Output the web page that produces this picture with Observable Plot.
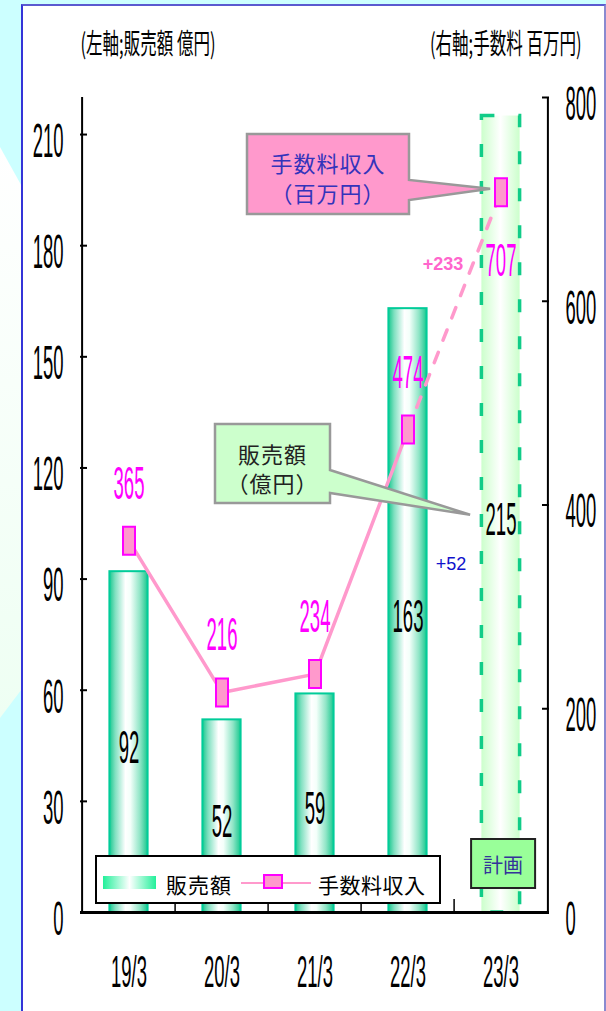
<!DOCTYPE html>
<html><head><meta charset="utf-8">
<script src="https://cdn.jsdelivr.net/npm/d3@7"></script>
<script src="https://cdn.jsdelivr.net/npm/@observablehq/plot@0.6"></script>
<style>
html,body{margin:0;padding:0;}
body{width:606px;height:1011px;background:#ccffff;position:relative;overflow:hidden;font-family:"Liberation Sans",Arial,sans-serif;}
#deco{position:absolute;left:0;top:0;}
#panel{position:absolute;left:21px;top:4px;width:581px;height:1100px;background:#fff;border-left:2px solid #3434d8;border-top:2px solid #5a5ad0;border-right:2px solid #8a8ad0;}
#chart{position:absolute;left:0;top:0;}
</style></head><body>
<svg id="deco" width="606" height="1011"><defs><linearGradient id="dg" x1="0" y1="0" x2="0" y2="1"><stop offset="0" stop-color="#ffffff"/><stop offset="1" stop-color="#eefff3"/></linearGradient></defs><polygon points="0,147 40,219 40,665 0,718" fill="url(#dg)"/></svg>
<div id="panel"></div>
<div id="chart"></div>
<script>
// ---- data ----
const periods = ["19/3", "20/3", "21/3", "22/3", "23/3"];
const sales = [92, 52, 59, 163, 215];      // 販売額 (億円), left axis
const fees = [365, 216, 234, 474, 707];    // 手数料収入 (百万円), right axis
const leftTicks = [0, 30, 60, 90, 120, 150, 180, 210];
const rightTicks = [0, 200, 400, 600, 800];
const planPeriod = "23/3";
const leftTitle = "(左軸;販売額 億円)";
const rightTitle = "(右軸;手数料 百万円)";
const leftMax = 220, rightMax = 800;

const toLeft = v => v * leftMax / rightMax;
const rows = periods.map((p, i) => ({period: p, sales: sales[i], fee: fees[i], plan: p === planPeriod}));
const actual = rows.filter(d => !d.plan);
const plan = rows.filter(d => d.plan);
const planIdx = periods.indexOf(planPeriod);
const diffs = [{period: planPeriod, sales: sales[planIdx], fee: fees[planIdx],
  dSales: sales[planIdx] - sales[planIdx - 1], dFee: fees[planIdx] - fees[planIdx - 1]}];

// ---- layout ----
const W = 606, H = 1011, mL = 80, mR = 57, mT = 97, mB = 99;
const innerW = W - mL - mR, innerH = H - mT - mB;
const step = innerW / periods.length;
const barW = 39, inset = (step - barW) / 2;
const NUM = "'Liberation Sans', Arial, sans-serif";
const CJK = "'Noto Sans CJK JP', 'Noto Sans', sans-serif";
// condensed text sizes -> horizontal scale
const SZ_Y = 48, SZ_X = 44, SZ_V = 47, SZ_T = 28;
const condenseBy = {[SZ_Y]: 0.385, [SZ_X]: 0.42, [SZ_V]: 0.395, [SZ_T]: 0.59};

const rectSym = {draw(ctx) { ctx.moveTo(-6, -14); ctx.lineTo(6, -14); ctx.lineTo(6, 14); ctx.lineTo(-6, 14); ctx.closePath(); }};

const plot = Plot.plot({
  width: W, height: H,
  marginLeft: mL, marginRight: mR, marginTop: mT, marginBottom: mB,
  x: {type: "band", domain: periods, padding: 0, axis: null},
  y: {domain: [0, leftMax], axis: null},
  style: {background: "transparent", overflow: "visible", fontFamily: NUM},
  marks: [
    Plot.barY(plan, {x: "period", y: "sales", fill: "url(#planGrad)", stroke: "#11cc88", strokeWidth: 3.5, strokeDasharray: "13,24", insetLeft: inset, insetRight: inset}),
    Plot.barY(actual, {x: "period", y: "sales", fill: "url(#barGrad)", stroke: "#00cc99", strokeWidth: 2, insetLeft: inset, insetRight: inset}),
    // bottom category ticks (inward)
    Plot.ruleX(periods.slice(1), {x: d => d, dx: -step / 2, insetTop: innerH - 13, stroke: "#000", strokeWidth: 1.5}),
    // axis lines
    Plot.ruleX([periods[0]], {x: d => d, dx: -step / 2, stroke: "#000", strokeWidth: 2}),
    Plot.ruleX([periods[periods.length - 1]], {x: d => d, dx: step / 2, stroke: "#000", strokeWidth: 2}),
    Plot.ruleY([0], {stroke: "#000", strokeWidth: 3}),
    // y ticks (inward)
    Plot.ruleY(leftTicks, {y: d => d, insetRight: innerW - 7, stroke: "#000", strokeWidth: 2}),
    Plot.ruleY(rightTicks, {y: d => toLeft(d), insetLeft: innerW - 7, stroke: "#000", strokeWidth: 2}),
    // fee line
    Plot.lineY(actual, {x: "period", y: d => toLeft(d.fee), stroke: "#ff99cc", strokeWidth: 3.5}),
    Plot.lineY(rows.slice(planIdx - 1), {x: "period", y: d => toLeft(d.fee), stroke: "#ff99cc", strokeWidth: 3.5, strokeDasharray: "11,13"}),
    Plot.dot(rows, {x: "period", y: d => toLeft(d.fee), symbol: rectSym, fill: "#ff99cc", stroke: "#ff00ff", strokeWidth: 2}),
    // axis labels
    Plot.text(leftTicks, {y: d => d, text: d => String(d), frameAnchor: "left", dx: -17, dy: 7, textAnchor: "end", fontSize: SZ_Y, fontFamily: NUM, fill: "#000"}),
    Plot.text(rightTicks, {y: d => toLeft(d), text: d => String(d), frameAnchor: "right", dx: 16, dy: 7, textAnchor: "start", fontSize: SZ_Y, fontFamily: NUM, fill: "#000"}),
    Plot.text(periods, {x: d => d, text: d => d, frameAnchor: "bottom", lineAnchor: "middle", dy: 60, fontSize: SZ_X, fontFamily: NUM, fill: "#000"}),
    // value labels
    Plot.text(rows, {x: "period", y: d => d.sales / 2, text: d => String(d.sales), dy: 6, fontSize: SZ_V, fontFamily: NUM, fill: "#000"}),
    Plot.text(actual, {x: "period", y: d => toLeft(d.fee), text: d => String(d.fee), dy: -57, fontSize: SZ_V, fontFamily: NUM, fill: "#ff00ff"}),
    Plot.text(plan, {x: "period", y: d => toLeft(d.fee), text: d => String(d.fee), dy: 69, fontSize: SZ_V, fontFamily: NUM, fill: "#ff00ff"}),
    // differences
    Plot.text(diffs, {x: "period", y: d => toLeft(d.fee), text: d => "+" + d.dFee, dx: -58, dy: 72, fontSize: 18, fontWeight: "bold", fontFamily: NUM, fill: "#ff66cc"}),
    Plot.text(diffs, {x: "period", y: d => d.sales / 2, text: d => "+" + d.dSales, dx: -50, dy: 50, fontSize: 18, fontFamily: NUM, fill: "#1111cc"}),
    // axis titles
    Plot.text([leftTitle], {text: d => d, frameAnchor: "top-left", lineAnchor: "middle", dx: 0, dy: -52, textAnchor: "start", fontSize: SZ_T, fontFamily: CJK, fill: "#000"}),
    Plot.text([rightTitle], {text: d => d, frameAnchor: "top-right", lineAnchor: "middle", dx: 32, dy: -52, textAnchor: "end", fontSize: SZ_T, fontFamily: CJK, fill: "#000"})
  ]
});

// condense tall narrow texts (horizontal scale around each text's own anchor)
plot.querySelectorAll("text").forEach(el => {
  const holder = el.closest("[font-size]");
  if (!holder) return;
  const s = condenseBy[parseFloat(holder.getAttribute("font-size"))];
  if (!s) return;
  const t = el.getAttribute("transform") || "";
  el.setAttribute("transform", `${t} scale(${s},1)`);
  const xa = el.getAttribute("x");
  if (xa != null && !isNaN(+xa)) el.setAttribute("x", +xa / s);
});

document.getElementById("chart").appendChild(plot);
const svg = d3.select(plot);

// gradients
const defs = svg.insert("defs", ":first-child");
function hgrad(id, stops) {
  const g = defs.append("linearGradient").attr("id", id).attr("x1", 0).attr("x2", 1).attr("y1", 0).attr("y2", 0);
  stops.forEach(([o, c]) => g.append("stop").attr("offset", o).attr("stop-color", c));
}
hgrad("barGrad", [[0, "#19c88f"], [0.15, "#7fe0c0"], [0.42, "#ffffff"], [0.55, "#f4fffa"], [0.8, "#8fe5c6"], [1, "#19c88f"]]);
hgrad("planGrad", [[0, "#ccffcc"], [0.5, "#ffffff"], [1, "#ccffcc"]]);
hgrad("legGrad", [[0, "#22f09a"], [0.5, "#ffffff"], [1, "#22f09a"]]);

// scale helpers
const xs = plot.scale("x"), ys = plot.scale("y");
const xBand = d3.scaleBand(xs.domain, xs.range).paddingInner(xs.paddingInner || 0).paddingOuter(xs.paddingOuter || 0);
const yLin = d3.scaleLinear(ys.domain, ys.range);
const cx = p => xBand(p) + xBand.bandwidth() / 2;

// callouts
function callout(box, tip, fill, lines, color) {
  const [x0, y0, x1, y1, b1, b2] = box;
  svg.append("path")
    .attr("d", `M${x0},${y0}H${x1}V${b1}L${tip[0]},${tip[1]}L${x1},${b2}V${y1}H${x0}Z`)
    .attr("fill", fill).attr("stroke", "#999").attr("stroke-width", 2.5).attr("stroke-linejoin", "miter");
  const mx = (x0 + x1) / 2;
  lines.forEach(([txt, y]) => svg.append("text").attr("x", mx).attr("y", y)
    .attr("text-anchor", "middle").attr("dominant-baseline", "central")
    .attr("font-family", CJK).attr("font-size", 22).attr("letter-spacing", 1).attr("fill", color).text(txt));
}
const tipFee = [cx(planPeriod) - 12, yLin(toLeft(fees[planIdx])) - 3];
const tipSales = [cx(planPeriod) - 32, yLin(sales[planIdx] / 2) + 1];
callout([247, 134, 409, 214, 180, 200], tipFee, "#ff99cc", [["手数料収入", 162], ["（百万円）", 192]], "#3333bb");
callout([215, 424, 330, 503, 470, 493], tipSales, "#ccffcc", [["販売額", 453], ["（億円）", 482]], "#222");

// legend
const lg = svg.append("g").attr("text-anchor", "start");
lg.append("rect").attr("x", 96).attr("y", 856).attr("width", 344).attr("height", 47).attr("fill", "#fff").attr("stroke", "#000").attr("stroke-width", 2);
lg.append("rect").attr("x", 103).attr("y", 876).attr("width", 53).attr("height", 13).attr("fill", "url(#legGrad)");
lg.append("text").attr("x", 166).attr("y", 884).attr("text-anchor", "start").attr("dominant-baseline", "central").attr("font-family", CJK).attr("font-size", 21).attr("letter-spacing", 1).attr("fill", "#000").text("販売額");
lg.append("line").attr("x1", 241).attr("x2", 311).attr("y1", 883).attr("y2", 883).attr("stroke", "#ff99cc").attr("stroke-width", 2);
lg.append("rect").attr("x", 264).attr("y", 875).attr("width", 18).attr("height", 13).attr("fill", "#ff99cc").attr("stroke", "#ff00ff").attr("stroke-width", 2);
lg.append("text").attr("x", 318).attr("y", 884).attr("text-anchor", "start").attr("dominant-baseline", "central").attr("font-family", CJK).attr("font-size", 21).attr("letter-spacing", 0.5).attr("fill", "#000").text("手数料収入");

// plan box
const pb = svg.append("g");
pb.append("rect").attr("x", cx(planPeriod) - 31).attr("y", 839).attr("width", 64).attr("height", 49).attr("fill", "#99ff99").attr("stroke", "#222").attr("stroke-width", 2);
pb.append("text").attr("x", cx(planPeriod) + 1).attr("y", 864).attr("text-anchor", "middle").attr("dominant-baseline", "central").attr("font-family", CJK).attr("font-size", 20).attr("fill", "#333399").text("計画");
</script>
</body></html>
